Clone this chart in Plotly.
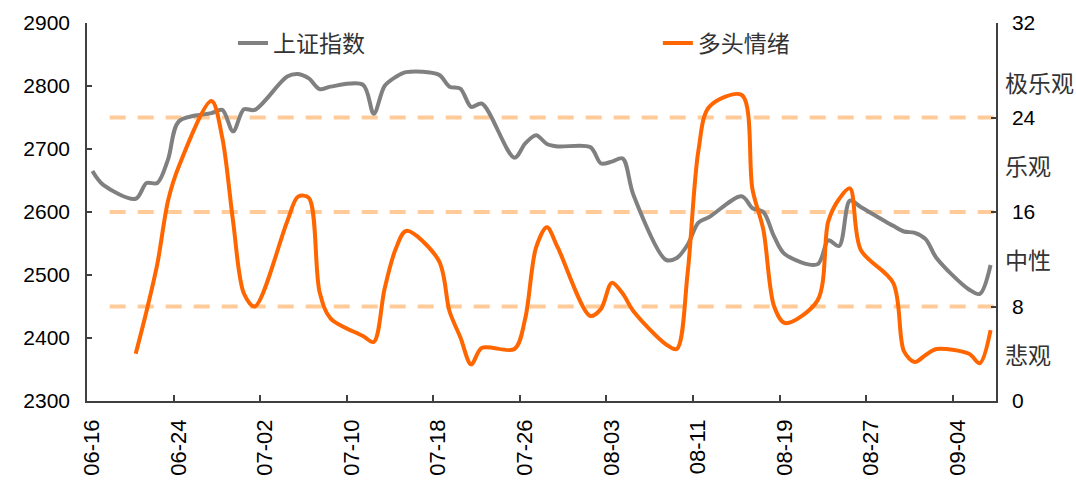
import pandas as pd
import plotly.graph_objects as go

# ---------------- data ----------------
dates = [
    "06-16", "06-17", "06-20", "06-21", "06-22", "06-23", "06-24", "06-27", "06-28", "06-29", "06-30",
    "07-01", "07-04", "07-05", "07-06", "07-07", "07-08", "07-11", "07-12", "07-13", "07-14", "07-15",
    "07-18", "07-19", "07-20", "07-21", "07-22", "07-25", "07-26", "07-27", "07-28", "07-29",
    "08-01", "08-02", "08-03", "08-04", "08-05", "08-08", "08-09", "08-10", "08-11", "08-12",
    "08-15", "08-16", "08-17", "08-18", "08-19", "08-22", "08-23", "08-24", "08-25", "08-26",
    "08-29", "08-30", "08-31", "09-01", "09-02", "09-05", "09-06", "09-07",
]
sse_index = [
    2665, 2643, 2621, 2646, 2646, 2684, 2744, 2757, 2762, 2728, 2763,
    2762, 2815, 2819, 2812, 2795, 2799, 2802, 2756, 2800, 2814, 2822,
    2818, 2799, 2796, 2767, 2772, 2686, 2709, 2722, 2708, 2704,
    2703, 2677, 2680, 2685, 2627, 2524, 2527, 2548, 2583, 2592,
    2625, 2606, 2600, 2561, 2533, 2517, 2555, 2546, 2618, 2608,
    2578, 2569, 2567, 2557, 2527, 2477, 2470, 2516,
]
sentiment_dates = dates[2:]
bull_sentiment = [
    4.0, 7.6, 11.6, 17.0, 19.9, 25.4, 22.3, 15.2, 9.1,
    8.0, 15.2, 17.3, 17.2, 9.2, 7.0, 5.5, 5.0, 9.5, 12.8, 14.4,
    11.9, 7.6, 5.4, 3.1, 4.5, 4.4, 7.0, 13.0, 14.7, 13.0,
    7.2, 7.8, 10.0, 9.1, 7.6, 4.8, 4.4, 10.8, 21.2, 24.9,
    25.9, 17.9, 14.5, 8.0, 6.6, 8.5, 15.2, 17.1, 18.0, 12.8,
    10.0, 4.2, 3.3, 3.9, 4.4, 4.0, 3.2, 6.0,
]
thresholds = [24, 16, 8]
x_tick_labels = ["06-16", "06-24", "07-02", "07-10", "07-18", "07-26",
                 "08-03", "08-11", "08-19", "08-27", "09-04"]
zone_labels = ["极乐观", "乐观", "中性", "悲观"]
YEAR = "2011"

# ---------------- build ----------------
def to_dt(labels, offset_h=0):
    return pd.to_datetime([f"{YEAR}-{s}" for s in labels]) + pd.Timedelta(hours=offset_h)

x_sse = to_dt(dates, 12)
x_sent = to_dt(sentiment_dates, 12)
tick_vals = to_dt(x_tick_labels)

LATIN = "Liberation Sans, Arial, Noto Sans CJK SC, sans-serif"
CJK = "Noto Sans CJK SC, Liberation Sans, sans-serif"
AXIS_COLOR = "#404040"

fig = go.Figure()
fig.add_trace(go.Scatter(
    x=x_sse, y=sse_index, name="上证指数", mode="lines",
    line=dict(color="#808080", width=4, shape="spline", smoothing=0.9),
    yaxis="y", legend="legend",
))
fig.add_trace(go.Scatter(
    x=x_sent, y=bull_sentiment, name="多头情绪", mode="lines",
    line=dict(color="#FF6600", width=4, shape="spline", smoothing=0.9),
    yaxis="y2", legend="legend2",
))

for t in thresholds:
    fig.add_shape(type="line", xref="paper", x0=0.025, x1=1.0, yref="y2", y0=t, y1=t,
                  line=dict(color="#FFCC99", width=4, dash="16px,12px"), layer="below")

zone_pos = [27, 20, 12, 4]
for txt, pos in zip(zone_labels, zone_pos):
    fig.add_annotation(text=txt, xref="paper", x=1.0, xshift=7, xanchor="left",
                       yref="y2", y=pos, yanchor="middle", showarrow=False,
                       font=dict(family=CJK, size=23, color="#333333"))

legend_common = dict(orientation="h", xanchor="left", yanchor="middle",
                     font=dict(family=CJK, size=23, color="#333333"),
                     bgcolor="rgba(0,0,0,0)")

fig.update_layout(
    template="none",
    width=1076, height=481,
    margin=dict(l=87, r=80, t=23, b=80, autoexpand=False),
    paper_bgcolor="white", plot_bgcolor="white",
    showlegend=True,
    legend=dict(x=0.1606, y=0.947, **legend_common),
    legend2=dict(x=0.628, y=0.947, **legend_common),
    xaxis=dict(
        type="date", automargin=False,
        range=[pd.Timestamp(f"{YEAR}-06-16"), pd.Timestamp(f"{YEAR}-09-08")],
        tickvals=tick_vals, ticktext=x_tick_labels, tickangle=-90,
        ticks="inside", ticklen=6, tickwidth=1.5, tickcolor=AXIS_COLOR,
        showline=True, linecolor=AXIS_COLOR, linewidth=1.5,
        showgrid=False, zeroline=False,
        tickfont=dict(family=LATIN, size=22, color="black"),
        ticklabelstandoff=8, ticklabelshift=5,
    ),
    yaxis=dict(
        automargin=False,
        range=[2300, 2900], tickvals=list(range(2300, 2901, 100)),
        ticks="inside", ticklen=5, tickwidth=1.5, tickcolor=AXIS_COLOR,
        showline=True, linecolor=AXIS_COLOR, linewidth=1.5,
        showgrid=False, zeroline=False,
        tickfont=dict(family=LATIN, size=21, color="black"),
        ticklabelstandoff=11,
    ),
    yaxis2=dict(
        automargin=False,
        range=[0, 32], tickvals=[0, 8, 16, 24, 32], overlaying="y", side="right",
        ticks="inside", ticklen=5, tickwidth=1.5, tickcolor=AXIS_COLOR,
        showline=True, linecolor=AXIS_COLOR, linewidth=1.5,
        showgrid=False, zeroline=False,
        tickfont=dict(family=LATIN, size=21, color="black"),
        ticklabelstandoff=10,
    ),
)

fig.write_html("out.html",
               config={"displayModeBar": False},
               post_script="document.body.style.margin='0';document.body.style.overflow='hidden';")
